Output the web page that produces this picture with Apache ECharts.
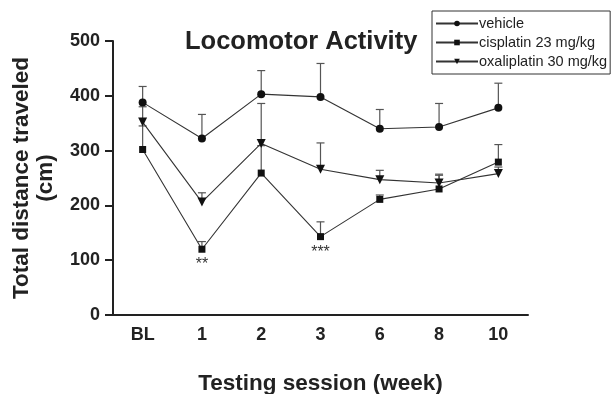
<!DOCTYPE html>
<html>
<head>
<meta charset="utf-8">
<script src="https://cdn.jsdelivr.net/npm/echarts@6/dist/echarts.min.js"></script>
<style>
  html, body { margin: 0; padding: 0; background: #fff; }
  #chart { width: 612px; height: 394px; }
</style>
</head>
<body>
<div id="chart"></div>
<script>
// 测试周次
var weeks = ['BL', '1', '2', '3', '6', '8', '10'];
var seriesNames = ['vehicle', 'cisplatin 23 mg/kg', 'oxaliplatin 30 mg/kg'];

// 均值 (cm)
var vehicleMean = [388, 322, 403, 398, 340, 343, 378];
var cisplatinMean = [302, 120, 259, 143, 211, 230, 279];
var oxaliplatinMean = [352, 206, 313, 266, 247, 241, 258];

// 误差（只画上半部分）
var vehicleErr = [29, 44, 43, 61, 35, 43, 45];
var cisplatinErr = [43, 14, 50, 27, 8, 25, 32];
var oxaliplatinErr = [28, 17, 73, 48, 17, 16, 12];

// 显著性标记
var cisplatinSig = ['', '**', '', '***', '', '', ''];

var yTicks = [0, 100, 200, 300, 400, 500];

var fontFam = '"Liberation Sans", Arial, sans-serif';
var dark = '#222';

var chart = echarts.init(document.getElementById('chart'));

var errData = function(mean, err) {
    var out = [];
    for (var i = 0; i < mean.length; i++) {
        out.push([i, mean[i], mean[i] + err[i]]);
    }
    return out;
};

var renderErr = function(params, api) {
    var lo = api.coord([api.value(0), api.value(1)]);
    var hi = api.coord([api.value(0), api.value(2)]);
    var w = 4;
    var st = { stroke: '#555', lineWidth: 1.2 };
    return {
        type: 'group',
        children: [
            { type: 'line', shape: { x1: lo[0], y1: lo[1], x2: hi[0], y2: hi[1] }, style: st },
            { type: 'line', shape: { x1: hi[0] - w, y1: hi[1], x2: hi[0] + w, y2: hi[1] }, style: st }
        ]
    };
};

var errSeries = function(mean, err) {
    return {
        type: 'custom',
        renderItem: renderErr,
        encode: { x: 0, y: [1, 2] },
        data: errData(mean, err),
        silent: true,
        z: 1
    };
};

var lineSeries = function(name, data, symbol, size, rotate) {
    return {
        name: name,
        type: 'line',
        data: data,
        symbol: symbol,
        symbolSize: size,
        symbolRotate: rotate || 0,
        showAllSymbol: true,
        lineStyle: { color: '#333', width: 1.1 },
        itemStyle: { color: '#111', borderWidth: 0 },
        z: 3
    };
};

var cisData = [];
for (var i = 0; i < cisplatinMean.length; i++) {
    cisData.push({
        value: cisplatinMean[i],
        label: {
            show: cisplatinSig[i] !== '',
            formatter: cisplatinSig[i],
            position: 'bottom',
            distance: 4,
            fontSize: 16,
            color: '#333',
            fontFamily: fontFam
        }
    });
}

var option = {
    animation: false,
    backgroundColor: '#fff',
    title: {
        text: 'Locomotor Activity',
        left: 180,
        top: 24,
        textStyle: { fontSize: 25.5, fontWeight: 'bold', color: dark, fontFamily: fontFam }
    },
    legend: {
        orient: 'vertical',
        left: 432,
        top: 11,
        padding: [5, 3, 5, 3],
        itemGap: 4,
        itemWidth: 42,
        itemHeight: 7,
        borderColor: '#333',
        borderWidth: 1,
        data: seriesNames,
        textStyle: { fontSize: 14.5, color: dark, fontFamily: fontFam, padding: [0, 0, 0, -4], lineHeight: 14 }
    },
    grid: {
        left: 113,
        right: 84,
        top: 41,
        bottom: 79,
        outerBoundsMode: 'none'
    },
    xAxis: {
        type: 'category',
        data: weeks,
        boundaryGap: true,
        name: 'Testing session (week)',
        nameLocation: 'middle',
        nameGap: 57,
        nameTextStyle: { fontSize: 22.5, fontWeight: 'bold', color: dark, fontFamily: fontFam },
        axisLine: { lineStyle: { color: dark, width: 2 } },
        axisTick: { alignWithLabel: true, length: 6, lineStyle: { color: dark, width: 2 } },
        axisLabel: { fontSize: 18, fontWeight: 'bold', color: dark, fontFamily: fontFam, margin: 11 },
        splitLine: { show: false }
    },
    yAxis: {
        type: 'value',
        min: yTicks[0],
        max: yTicks[yTicks.length - 1],
        interval: 100,
        name: 'Total distance traveled\n(cm)',
        nameLocation: 'middle',
        nameGap: 55,
        nameRotate: 90,
        nameTextStyle: { fontSize: 22.5, fontWeight: 'bold', color: dark, fontFamily: fontFam, lineHeight: 24 },
        axisLine: { show: true, lineStyle: { color: dark, width: 2 } },
        axisTick: { show: true, length: 8, lineStyle: { color: dark, width: 2 } },
        axisLabel: { fontSize: 18, fontWeight: 'bold', color: dark, fontFamily: fontFam, margin: 13 },
        splitLine: { show: false }
    },
    series: [
        errSeries(vehicleMean, vehicleErr),
        errSeries(cisplatinMean, cisplatinErr),
        errSeries(oxaliplatinMean, oxaliplatinErr),
        lineSeries(seriesNames[0], vehicleMean, 'circle', 8),
        lineSeries(seriesNames[1], cisData, 'rect', 7),
        lineSeries(seriesNames[2], oxaliplatinMean, 'triangle', 9, 180)
    ]
};

chart.setOption(option);
</script>
</body>
</html>
